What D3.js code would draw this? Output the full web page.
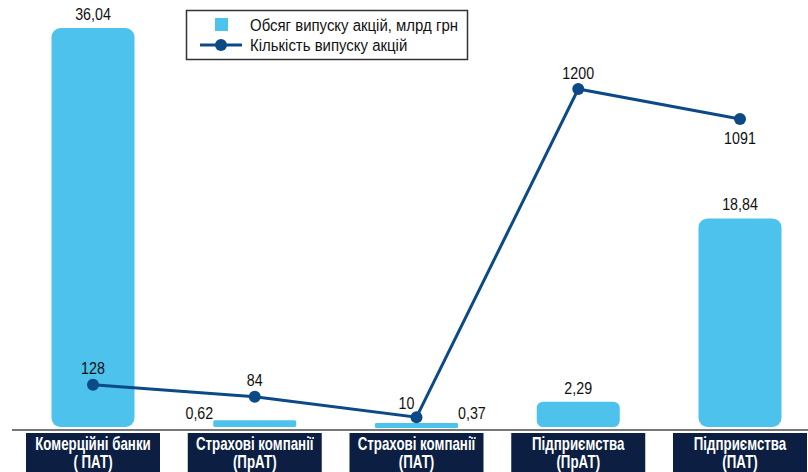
<!DOCTYPE html>
<html>
<head>
<meta charset="utf-8">
<script src="https://cdn.jsdelivr.net/npm/d3@7"></script>
<style>
  body { margin: 0; background: #fff; }
  svg { display: block; font-family: "Liberation Sans", Arial, sans-serif; }
</style>
</head>
<body>
<svg></svg>
<script>
let width = 808;
let height = 472;

// data
let categories = ["Комерційні банки|( ПАТ)", "Страхові компанії|(ПрАТ)", "Страхові компанії|(ПАТ)", "Підприємства|(ПрАТ)", "Підприємства|(ПАТ)"];
let volumes = [36.04, 0.62, 0.37, 2.29, 18.84];
let counts = [128, 84, 10, 1200, 1091];
let volumeLabels = ["36,04", "0,62", "0,37", "2,29", "18,84"];
let legendLabels = ["Обсяг випуску акцій, млрд грн", "Кількість випуску акцій"];

let barColor = "#4cc2ec";
let lineColor = "#0b4a87";
let boxColor = "#0c1f42";

let svg = d3.select("svg").attr("width", width).attr("height", height);

let baseY = 427;
let barW = 83;
let sx = 0.84; // narrow look

let place = (px, py, s) => "translate(" + px + "," + py + ") scale(" + (s || sx) + ",1)";

let x = d3.scalePoint().domain(categories).range([93, 740]);
let yBar = d3.scaleLinear().domain([0, 36.04]).range([baseY, 28]);
let yLine = d3.scaleLinear().domain([0, 1200]).range([420, 89]);

// bars
svg.selectAll("rect.bar")
   .data(volumes)
   .enter()
   .append("rect")
   .attr("class", "bar")
   .attr("x", (d, i) => x(categories[i]) - barW / 2)
   .attr("width", barW)
   .attr("y", d => yBar(d))
   .attr("height", d => Math.max(baseY - yBar(d), 5))
   .attr("rx", d => Math.min(9, Math.max(baseY - yBar(d), 5) / 4))
   .attr("fill", barColor);

// bar value labels
let barLabelPos = [
  {dx: 0, anchor: "middle", dy: -8, side: false},
  {dx: -barW / 2, anchor: "end", dy: 0, side: true},
  {dx: barW / 2, anchor: "start", dy: 0, side: true},
  {dx: 0, anchor: "middle", dy: -8, side: false},
  {dx: 0, anchor: "middle", dy: -8, side: false}
];
svg.selectAll("text.vlab")
   .data(volumes)
   .enter()
   .append("text")
   .attr("class", "vlab")
   .attr("transform", (d, i) => place(x(categories[i]) + barLabelPos[i].dx,
        barLabelPos[i].side ? 419 : yBar(d) + barLabelPos[i].dy))
   .attr("text-anchor", (d, i) => barLabelPos[i].anchor)
   .attr("font-size", 17)
   .attr("fill", "#111")
   .text((d, i) => volumeLabels[i]);

// axis line
svg.append("line")
   .attr("x1", 12).attr("x2", width)
   .attr("y1", 430).attr("y2", 430)
   .attr("stroke", "#777").attr("stroke-width", 2);

// category boxes
let cat = svg.selectAll("g.cat")
   .data(categories)
   .enter()
   .append("g")
   .attr("class", "cat")
   .attr("transform", d => "translate(" + x(d) + ",0)");
cat.append("rect")
   .attr("x", -67).attr("width", 134)
   .attr("y", 433).attr("height", 45)
   .attr("fill", boxColor);
cat.append("text")
   .attr("text-anchor", "middle")
   .attr("transform", place(0, 450, 0.74))
   .attr("fill", "#fff")
   .attr("font-weight", "bold")
   .attr("font-size", 18)
   .text(d => d.split("|")[0]);
cat.append("text")
   .attr("text-anchor", "middle")
   .attr("transform", place(0, 468, 0.74))
   .attr("fill", "#fff")
   .attr("font-weight", "bold")
   .attr("font-size", 18)
   .text(d => d.split("|")[1]);

// line
let line = d3.line()
   .x((d, i) => x(categories[i]))
   .y(d => yLine(d));
svg.append("path")
   .datum(counts)
   .attr("d", line)
   .attr("fill", "none")
   .attr("stroke", lineColor)
   .attr("stroke-width", 3);
svg.selectAll("circle.pt")
   .data(counts)
   .enter()
   .append("circle")
   .attr("class", "pt")
   .attr("cx", (d, i) => x(categories[i]))
   .attr("cy", d => yLine(d))
   .attr("r", 6)
   .attr("fill", lineColor);

let countLabelPos = [
  {dx: 0, dy: -11},
  {dx: 0, dy: -11},
  {dx: -10, dy: -8},
  {dx: 0, dy: -10},
  {dx: 0, dy: 25}
];
svg.selectAll("text.clab")
   .data(counts)
   .enter()
   .append("text")
   .attr("class", "clab")
   .attr("transform", (d, i) => place(x(categories[i]) + countLabelPos[i].dx, yLine(d) + countLabelPos[i].dy))
   .attr("text-anchor", "middle")
   .attr("font-size", 17)
   .attr("fill", "#111")
   .text(d => d);

// legend
let lg = svg.append("g");
lg.append("rect")
  .attr("x", 186.5).attr("y", 10.5)
  .attr("width", 281).attr("height", 49)
  .attr("fill", "#fff")
  .attr("stroke", "#333").attr("stroke-width", 1.5);
lg.append("rect")
  .attr("x", 215).attr("y", 18)
  .attr("width", 13).attr("height", 13)
  .attr("fill", barColor);
lg.append("line")
  .attr("x1", 200).attr("x2", 242)
  .attr("y1", 45).attr("y2", 45)
  .attr("stroke", lineColor).attr("stroke-width", 3);
lg.append("circle")
  .attr("cx", 221).attr("cy", 45).attr("r", 6)
  .attr("fill", lineColor);
lg.selectAll("text")
  .data(legendLabels)
  .enter()
  .append("text")
  .attr("transform", (d, i) => place(250, 31 + i * 20, 0.88))
  .attr("font-size", 17)
  .attr("fill", "#111")
  .text(d => d);
</script>
</body>
</html>
